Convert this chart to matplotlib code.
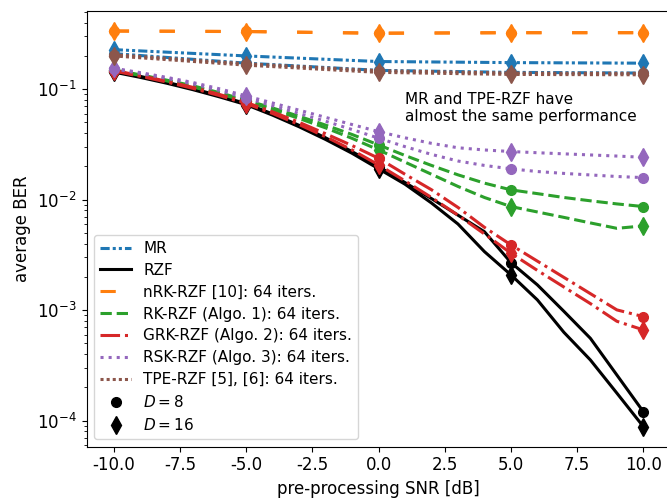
import matplotlib
matplotlib.use("Agg")
import matplotlib.pyplot as plt
import numpy as np

# SNR-Achsen
snr_fine = np.arange(-10, 11, 1)
snr_coarse = [-10, -5, 0, 5, 10]

# obere Kurven (nur 5 Punkte)
mr_d8 = [0.21, 0.172, 0.148, 0.142, 0.14]
mr_d16 = [0.228, 0.2, 0.178, 0.174, 0.172]
nrk_d8 = [0.337, 0.333, 0.322, 0.325, 0.325]
nrk_d16 = [0.335, 0.332, 0.32, 0.324, 0.324]
tpe_d8 = [0.205, 0.17, 0.147, 0.14, 0.139]
tpe_d16 = [0.2, 0.165, 0.142, 0.136, 0.135]

# untere Kurven, log10(BER) je 1 dB
rzf_d8_log = [-0.836, -0.884, -0.937, -0.996, -1.060, -1.131, -1.224, -1.327, -1.44, -1.565, -1.70,
              -1.845, -1.99, -2.14, -2.29, -2.569, -2.771, -3.01, -3.254, -3.586, -3.918]
rzf_d16_log = [-0.845, -0.893, -0.946, -1.005, -1.07, -1.14, -1.235, -1.34, -1.455, -1.58, -1.72,
               -1.86, -2.03, -2.22, -2.47, -2.68, -2.907, -3.2, -3.45, -3.75, -4.053]
grk_d8_log = [-0.830, -0.877, -0.928, -0.984, -1.048, -1.12, -1.205, -1.3, -1.403, -1.51, -1.625,
              -1.77, -1.91, -2.07, -2.25, -2.409, -2.556, -2.703, -2.85, -2.997, -3.058]
grk_d16_log = [-0.835, -0.883, -0.935, -0.993, -1.058, -1.13, -1.22, -1.32, -1.43, -1.55, -1.685,
               -1.83, -1.98, -2.14, -2.31, -2.484, -2.64, -2.79, -2.94, -3.1, -3.178]
rk_d8_log = [-0.825, -0.87, -0.918, -0.97, -1.032, -1.1, -1.17, -1.245, -1.325, -1.41, -1.504,
             -1.6, -1.69, -1.775, -1.85, -1.911, -1.945, -1.98, -2.01, -2.038, -2.062]
rk_d16_log = [-0.83, -0.876, -0.925, -0.98, -1.043, -1.11, -1.185, -1.265, -1.35, -1.445, -1.549,
              -1.66, -1.77, -1.88, -1.98, -2.062, -2.111, -2.16, -2.21, -2.259, -2.237]
rsk_d8_log = [-0.815, -0.857, -0.902, -0.952, -1.012, -1.08, -1.15, -1.22, -1.29, -1.365, -1.443,
              -1.52, -1.59, -1.65, -1.69, -1.721, -1.745, -1.762, -1.776, -1.79, -1.8]
rsk_d16_log = [-0.81, -0.85, -0.893, -0.94, -0.997, -1.061, -1.125, -1.19, -1.255, -1.32, -1.384,
               -1.44, -1.49, -1.53, -1.55, -1.564, -1.575, -1.585, -1.595, -1.605, -1.616]

plt.rcParams["axes.unicode_minus"] = False

fig = plt.figure(figsize=(6.67, 5.0), dpi=100)
ax = fig.add_axes([86.5 / 667, 53.3 / 500, (669.8 - 86.5) / 667, (446.7 - 11) / 500])

lw = 2.2
ms_o = 7
ms_d = 9

styles = {
    "MR": ("C0", (0, (3, 1, 1, 1, 1, 1))),
    "RZF": ("black", "-"),
    "nRK": ("C1", (0, (5, 10))),
    "RK": ("C2", "--"),
    "GRK": ("C3", "-."),
    "RSK": ("C4", ":"),
    "TPE": ("C5", (0, (1, 1))),
}


def coarse(name, d8, d16):
    c, ls = styles[name]
    ax.plot(snr_coarse, d8, color=c, ls=ls, lw=lw, marker="o", ms=ms_o)
    ax.plot(snr_coarse, d16, color=c, ls=ls, lw=lw, marker="d", ms=ms_d)


def fine(name, d8_log, d16_log):
    c, ls = styles[name]
    ax.plot(snr_fine, 10 ** np.array(d8_log), color=c, ls=ls, lw=lw, marker="o", ms=ms_o, markevery=5)
    ax.plot(snr_fine, 10 ** np.array(d16_log), color=c, ls=ls, lw=lw, marker="d", ms=ms_d, markevery=5)


coarse("MR", mr_d8, mr_d16)
fine("RZF", rzf_d8_log, rzf_d16_log)
coarse("nRK", nrk_d8, nrk_d16)
fine("RK", rk_d8_log, rk_d16_log)
fine("GRK", grk_d8_log, grk_d16_log)
fine("RSK", rsk_d8_log, rsk_d16_log)
coarse("TPE", tpe_d8, tpe_d16)

ax.set_yscale("log")
ax.set_xlim(-11.03, 11)
ax.set_ylim(5.82e-5, 0.51)
ax.set_xticks([-10, -7.5, -5, -2.5, 0, 2.5, 5, 7.5, 10])
ax.set_xticklabels(["-10.0", "-7.5", "-5.0", "-2.5", "0.0", "2.5", "5.0", "7.5", "10.0"])
ax.tick_params(labelsize=12)
ax.set_xlabel("pre-processing SNR [dB]", fontsize=12)
ax.set_ylabel("average BER", fontsize=12)

ax.text(1.0, 0.0945, "MR and TPE-RZF have\nalmost the same performance", fontsize=11, va="top")

# Legende
labels = ["MR", "RZF", "nRK-RZF [10]: 64 iters.", "RK-RZF (Algo. 1): 64 iters.",
          "GRK-RZF (Algo. 2): 64 iters.", "RSK-RZF (Algo. 3): 64 iters.", "TPE-RZF [5], [6]: 64 iters."]
handles = []
for key in ["MR", "RZF", "nRK", "RK", "GRK", "RSK", "TPE"]:
    c, ls = styles[key]
    h, = ax.plot([], [], color=c, ls=ls, lw=lw)
    handles.append(h)
h8, = ax.plot([], [], "o", color="black", ms=ms_o)
h16, = ax.plot([], [], "d", color="black", ms=ms_d)
handles += [h8, h16]
labels += ["$D=8$", "$D=16$"]
ax.legend(handles, labels, loc="lower left", fontsize=11, labelspacing=0.45)

fig.savefig("out.png", dpi=100)
